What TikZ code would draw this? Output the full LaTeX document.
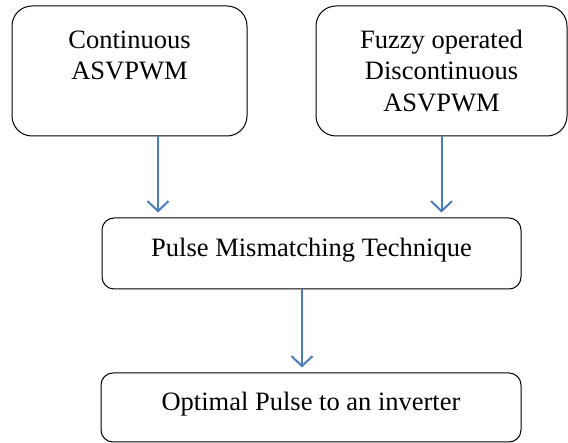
\documentclass[tikz,border=0pt]{standalone}
\usepackage{fontspec}
\setmainfont{Liberation Serif}
\usetikzlibrary{arrows.meta}
\definecolor{arrowblue}{HTML}{4A7EBB}
\tikzset{
	bigbox/.style={draw=black, line width=1pt, rounded corners=20pt, align=center,
		font=\fontsize{26.5}{31.5}\selectfont},
	flatbox/.style={draw=black, line width=1pt, rounded corners=12pt,
		text height=19pt, text depth=12pt, font=\fontsize{26.5}{31.5}\selectfont},
	flow/.style={draw=arrowblue, line width=2pt, shorten >=5pt,
		-{Straight Barb[length=10pt,width=21pt,line width=2pt]}}
}

\begin{document}
\begin{tikzpicture}[x=1pt, y=-1pt]
		%%%%% START %%%%%
		\useasboundingbox (0, 0) rectangle (568, 443);
		
		\node[bigbox, minimum width=235pt, minimum height=130pt] (cont) at (129.5, 71) {Continuous\\ASVPWM\\\mbox{}};
		\node[bigbox, minimum width=251pt, minimum height=130pt] (fuzzy) at (441.5, 71) {Fuzzy operated\\Discontinuous\\ASVPWM};
		
		\node[flatbox, minimum width=419pt, minimum height=71pt] (mism) at (311.5, 253.5) {Pulse Mismatching Technique};
		\node[flatbox, minimum width=420pt, minimum height=69pt] (opt) at (311, 407.5) {Optimal Pulse to an inverter};
		
		\draw[flow] ([xshift=28.5pt]cont.south) -- ([xshift=28.5pt]cont.south |- mism.north);
		\draw[flow] (fuzzy.south) -- (fuzzy.south |- mism.north);
		\draw[flow] ([xshift=-9.5pt]mism.south) -- ([xshift=-9.5pt]mism.south |- opt.north);
		%%%%% END %%%%%
	\end{tikzpicture}
\end{document}
